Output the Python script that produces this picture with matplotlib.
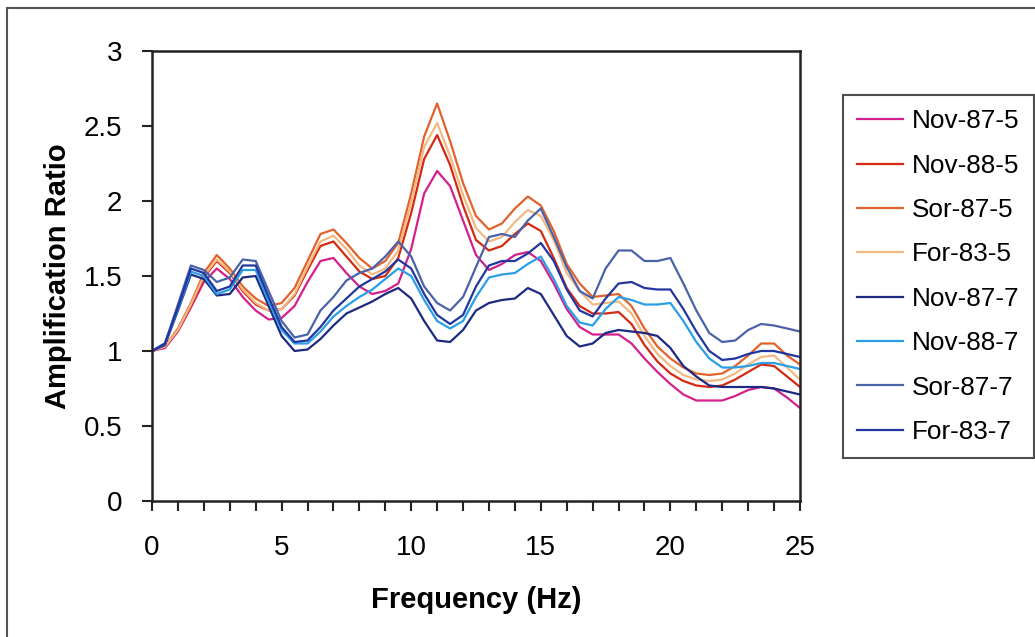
import matplotlib
matplotlib.use("Agg")
import matplotlib.pyplot as plt
from matplotlib.patches import Rectangle
import numpy as np

plt.rcParams["font.family"] = ["Liberation Sans", "DejaVu Sans"]

FREQ_HZ = np.arange(0, 25.01, 0.5)

NOV_87_5 = [1.00, 1.02, 1.13, 1.29, 1.46, 1.55, 1.48, 1.36, 1.27, 1.21, 1.22, 1.30, 1.46,
            1.60, 1.62, 1.52, 1.43, 1.38, 1.40, 1.45, 1.68, 2.05, 2.20, 2.10, 1.87, 1.64,
            1.54, 1.58, 1.64, 1.66, 1.60, 1.45, 1.28, 1.16, 1.11, 1.11, 1.11, 1.05, 0.95,
            0.86, 0.78, 0.71, 0.67, 0.67, 0.67, 0.70, 0.74, 0.76, 0.75, 0.69, 0.62]
NOV_88_5 = [1.00, 1.03, 1.14, 1.30, 1.49, 1.60, 1.52, 1.40, 1.31, 1.27, 1.28, 1.37, 1.54,
            1.70, 1.73, 1.63, 1.53, 1.48, 1.50, 1.62, 1.92, 2.28, 2.44, 2.24, 1.97, 1.74,
            1.67, 1.70, 1.78, 1.85, 1.80, 1.62, 1.42, 1.30, 1.25, 1.25, 1.26, 1.18, 1.04,
            0.93, 0.85, 0.80, 0.77, 0.76, 0.77, 0.81, 0.86, 0.91, 0.90, 0.83, 0.76]
SOR_87_5 = [1.00, 1.03, 1.15, 1.32, 1.52, 1.64, 1.55, 1.43, 1.35, 1.30, 1.32, 1.42, 1.60,
            1.78, 1.81, 1.72, 1.62, 1.55, 1.60, 1.72, 2.05, 2.43, 2.65, 2.40, 2.12, 1.90,
            1.81, 1.85, 1.95, 2.03, 1.97, 1.80, 1.58, 1.45, 1.36, 1.37, 1.38, 1.30, 1.15,
            1.03, 0.95, 0.89, 0.85, 0.84, 0.85, 0.90, 0.97, 1.05, 1.05, 0.97, 0.91]
FOR_83_5 = [1.00, 1.03, 1.14, 1.31, 1.50, 1.61, 1.53, 1.41, 1.32, 1.27, 1.28, 1.38, 1.56,
            1.73, 1.77, 1.68, 1.57, 1.51, 1.55, 1.67, 1.99, 2.36, 2.52, 2.30, 2.04, 1.82,
            1.73, 1.76, 1.86, 1.94, 1.90, 1.74, 1.52, 1.40, 1.31, 1.32, 1.33, 1.25, 1.10,
            0.98, 0.90, 0.84, 0.81, 0.80, 0.81, 0.85, 0.91, 0.96, 0.97, 0.89, 0.81]
NOV_87_7 = [1.00, 1.04, 1.27, 1.51, 1.48, 1.37, 1.38, 1.49, 1.50, 1.30, 1.10, 1.00, 1.01,
            1.08, 1.17, 1.25, 1.29, 1.33, 1.38, 1.42, 1.35, 1.20, 1.07, 1.06, 1.14, 1.27,
            1.32, 1.34, 1.35, 1.42, 1.38, 1.24, 1.10, 1.03, 1.05, 1.12, 1.14, 1.13, 1.12,
            1.10, 1.02, 0.90, 0.83, 0.77, 0.76, 0.76, 0.76, 0.76, 0.75, 0.73, 0.71]
NOV_88_7 = [1.00, 1.05, 1.28, 1.53, 1.50, 1.38, 1.41, 1.54, 1.54, 1.33, 1.14, 1.05, 1.05,
            1.13, 1.23, 1.30, 1.36, 1.41, 1.48, 1.55, 1.50, 1.34, 1.20, 1.15, 1.20, 1.36,
            1.49, 1.51, 1.52, 1.58, 1.63, 1.48, 1.30, 1.19, 1.17, 1.28, 1.36, 1.34, 1.31,
            1.31, 1.32, 1.20, 1.06, 0.95, 0.89, 0.89, 0.90, 0.92, 0.92, 0.90, 0.88]
SOR_87_7 = [1.00, 1.05, 1.31, 1.57, 1.54, 1.46, 1.49, 1.61, 1.60, 1.40, 1.20, 1.09, 1.11,
            1.27, 1.36, 1.47, 1.52, 1.55, 1.63, 1.73, 1.63, 1.43, 1.32, 1.27, 1.36, 1.56,
            1.76, 1.78, 1.76, 1.87, 1.95, 1.76, 1.56, 1.40, 1.35, 1.55, 1.67, 1.67, 1.60,
            1.60, 1.62, 1.45, 1.27, 1.12, 1.06, 1.07, 1.14, 1.18, 1.17, 1.15, 1.13]
FOR_83_7 = [1.00, 1.05, 1.29, 1.55, 1.52, 1.40, 1.43, 1.57, 1.57, 1.36, 1.16, 1.06, 1.07,
            1.16, 1.27, 1.35, 1.43, 1.48, 1.53, 1.61, 1.55, 1.38, 1.24, 1.18, 1.24, 1.43,
            1.57, 1.60, 1.60, 1.65, 1.72, 1.60, 1.41, 1.27, 1.23, 1.35, 1.45, 1.46, 1.42,
            1.41, 1.41, 1.28, 1.13, 1.00, 0.94, 0.95, 0.98, 1.00, 1.00, 0.98, 0.96]

SERIES = [
    ("Nov-87-5", NOV_87_5, "#d4208c"),
    ("Nov-88-5", NOV_88_5, "#d42a12"),
    ("Sor-87-5", SOR_87_5, "#e2622c"),
    ("For-83-5", FOR_83_5, "#f3b982"),
    ("Nov-87-7", NOV_87_7, "#1c2a82"),
    ("Nov-88-7", NOV_88_7, "#2a9fe6"),
    ("Sor-87-7", SOR_87_7, "#4a62a8"),
    ("For-83-7", FOR_83_7, "#2236a0"),
]

W, H = 1035, 637
fig = plt.figure(figsize=(W / 100, H / 100), dpi=100)
ax = fig.add_axes([152 / W, 1 - 501 / H, (800 - 152) / W, (501 - 51) / H])

for name, values, color in SERIES:
    ax.plot(FREQ_HZ, values, color=color, linewidth=1.6, label=name,
            solid_joinstyle="round")

ax.set_xlim(0, 25)
ax.set_ylim(0, 3)
ax.set_xticks(np.arange(0, 26, 5))
ax.set_xticks(np.arange(0, 26, 1), minor=True)
ax.set_yticks(np.arange(0, 3.01, 0.5))
ax.set_yticklabels(["0", "0.5", "1", "1.5", "2", "2.5", "3"])
ax.tick_params(axis="both", which="both", direction="out", length=7.5, width=1.5,
               labelsize=20, color="#222222")
ax.tick_params(axis="x", pad=17)
ax.tick_params(axis="y", pad=14)
for spine in ax.spines.values():
    spine.set_linewidth(1.8)
    spine.set_color("#222222")

ax.set_xlabel("Frequency (Hz)", fontsize=21, fontweight="bold", labelpad=18)
ax.set_ylabel("Amplification Ratio", fontsize=21, fontweight="bold", labelpad=8)

leg = fig.legend(loc="upper left", bbox_to_anchor=(843 / W, 1 - 95 / H),
                 bbox_transform=fig.transFigure, frameon=True, fancybox=False,
                 fontsize=18.8, handlelength=1.75, handletextpad=0.35,
                 labelspacing=0.78, borderpad=0.55, borderaxespad=0)
leg.get_frame().set_edgecolor("#222222")
leg.get_frame().set_linewidth(1.5)
for line in leg.get_lines():
    line.set_linewidth(1.6)

# outer frame of the scanned chart
fig.patches.append(Rectangle((7 / W, -0.1), 1.2, 1 - 8 / H + 0.1, transform=fig.transFigure,
                             fill=False, edgecolor="#555555", linewidth=1.5))

fig.savefig("out.png", dpi=100)
